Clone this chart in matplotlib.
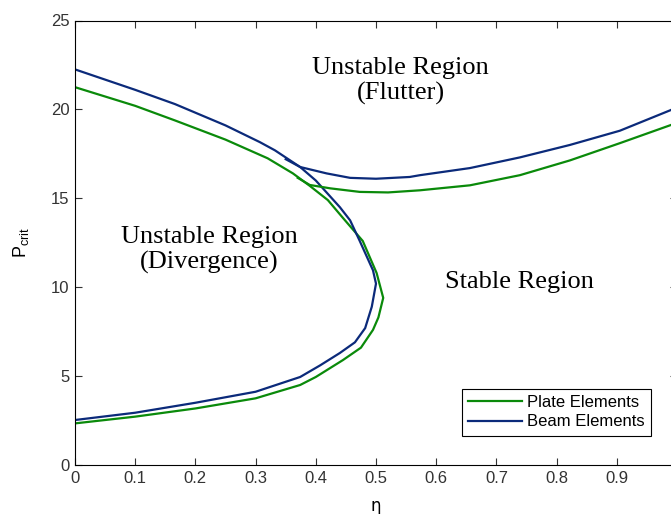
import matplotlib
matplotlib.use("Agg")
import matplotlib.pyplot as plt

# divergence boundary (upper branch down to the nose and back along the lower branch)
beam_div_eta = [0.0, 0.1, 0.166, 0.25, 0.307, 0.332, 0.374, 0.40, 0.44, 0.457, 0.473, 0.495, 0.50,
                0.493, 0.482, 0.465, 0.44, 0.407, 0.374, 0.30, 0.2, 0.1, 0.0]
beam_div_P = [22.25, 21.1, 20.3, 19.1, 18.16, 17.7, 16.76, 16.0, 14.5, 13.76, 12.6, 10.95, 10.2,
              8.9, 7.7, 6.9, 6.3, 5.6, 4.95, 4.12, 3.5, 2.94, 2.53]
plate_div_eta = [0.0, 0.1, 0.166, 0.25, 0.32, 0.362, 0.39, 0.42, 0.445, 0.478, 0.501, 0.512,
                 0.504, 0.495, 0.475, 0.445, 0.40, 0.374, 0.30, 0.2, 0.1, 0.0]
plate_div_P = [21.25, 20.2, 19.38, 18.3, 17.25, 16.4, 15.7, 14.9, 13.9, 12.6, 10.8, 9.4,
               8.3, 7.6, 6.6, 5.9, 4.95, 4.5, 3.75, 3.18, 2.72, 2.34]

# flutter boundary
beam_flut_eta = [0.35, 0.374, 0.418, 0.457, 0.50, 0.556, 0.573, 0.656, 0.739, 0.822, 0.905, 0.988, 1.0]
beam_flut_P = [17.2, 16.76, 16.4, 16.15, 16.1, 16.2, 16.3, 16.7, 17.3, 18.0, 18.8, 19.94, 20.1]
plate_flut_eta = [0.37, 0.39, 0.424, 0.473, 0.52, 0.573, 0.656, 0.739, 0.822, 0.905, 0.988, 1.0]
plate_flut_P = [16.15, 15.75, 15.56, 15.36, 15.33, 15.45, 15.73, 16.3, 17.13, 18.1, 19.1, 19.25]

green = "#0a8a0a"
blue = "#0b2a7a"

fig = plt.figure(figsize=(6.71, 5.14), dpi=100)
ax = fig.add_axes([75 / 671, 49 / 514, 602 / 671, 444.5 / 514])

ax.plot(plate_div_eta, plate_div_P, color=green, lw=1.6, label="Plate Elements")
ax.plot(beam_div_eta, beam_div_P, color=blue, lw=1.6, label="Beam Elements")
ax.plot(plate_flut_eta, plate_flut_P, color=green, lw=1.6)
ax.plot(beam_flut_eta, beam_flut_P, color=blue, lw=1.6)

ax.set_xlim(0, 1)
ax.set_ylim(0, 25)
ax.set_xticks([0, 0.1, 0.2, 0.3, 0.4, 0.5, 0.6, 0.7, 0.8, 0.9, 1.0])
# the "1" label falls outside the cropped figure, so it is left blank
ax.set_xticklabels(["0", "0.1", "0.2", "0.3", "0.4", "0.5", "0.6", "0.7", "0.8", "0.9", ""])
ax.set_yticks([0, 5, 10, 15, 20, 25])
ax.tick_params(direction="in", top=True, right=True, length=5, width=0.8,
               labelsize=12, pad=4, colors="#333333")
for lab in ax.get_xticklabels() + ax.get_yticklabels():
    lab.set_fontfamily("Liberation Sans")

ax.set_xlabel("η", fontsize=12, family="DejaVu Sans", labelpad=8)
ax.set_ylabel(r"$\mathregular{P_{crit}}$", fontsize=13, family="Liberation Sans", labelpad=14)

serif = dict(family="Liberation Serif", fontsize=19, ha="center", va="center",
             linespacing=1.15)
ax.text(0.541, 21.6, "Unstable Region\n(Flutter)", **serif)
ax.text(0.2226, 12.1, "Unstable Region\n(Divergence)", **serif)
ax.text(0.739, 10.3, "Stable Region", **serif)

leg = ax.legend(loc="lower right", bbox_to_anchor=(0.957, 0.065), borderaxespad=0,
                fancybox=False, edgecolor="black", framealpha=1,
                prop={"family": "Liberation Sans", "size": 12},
                handlelength=3.2, handletextpad=0.3, labelspacing=0.25,
                borderpad=0.4)
leg.get_frame().set_linewidth(0.8)

fig.savefig("out.png", dpi=100)
